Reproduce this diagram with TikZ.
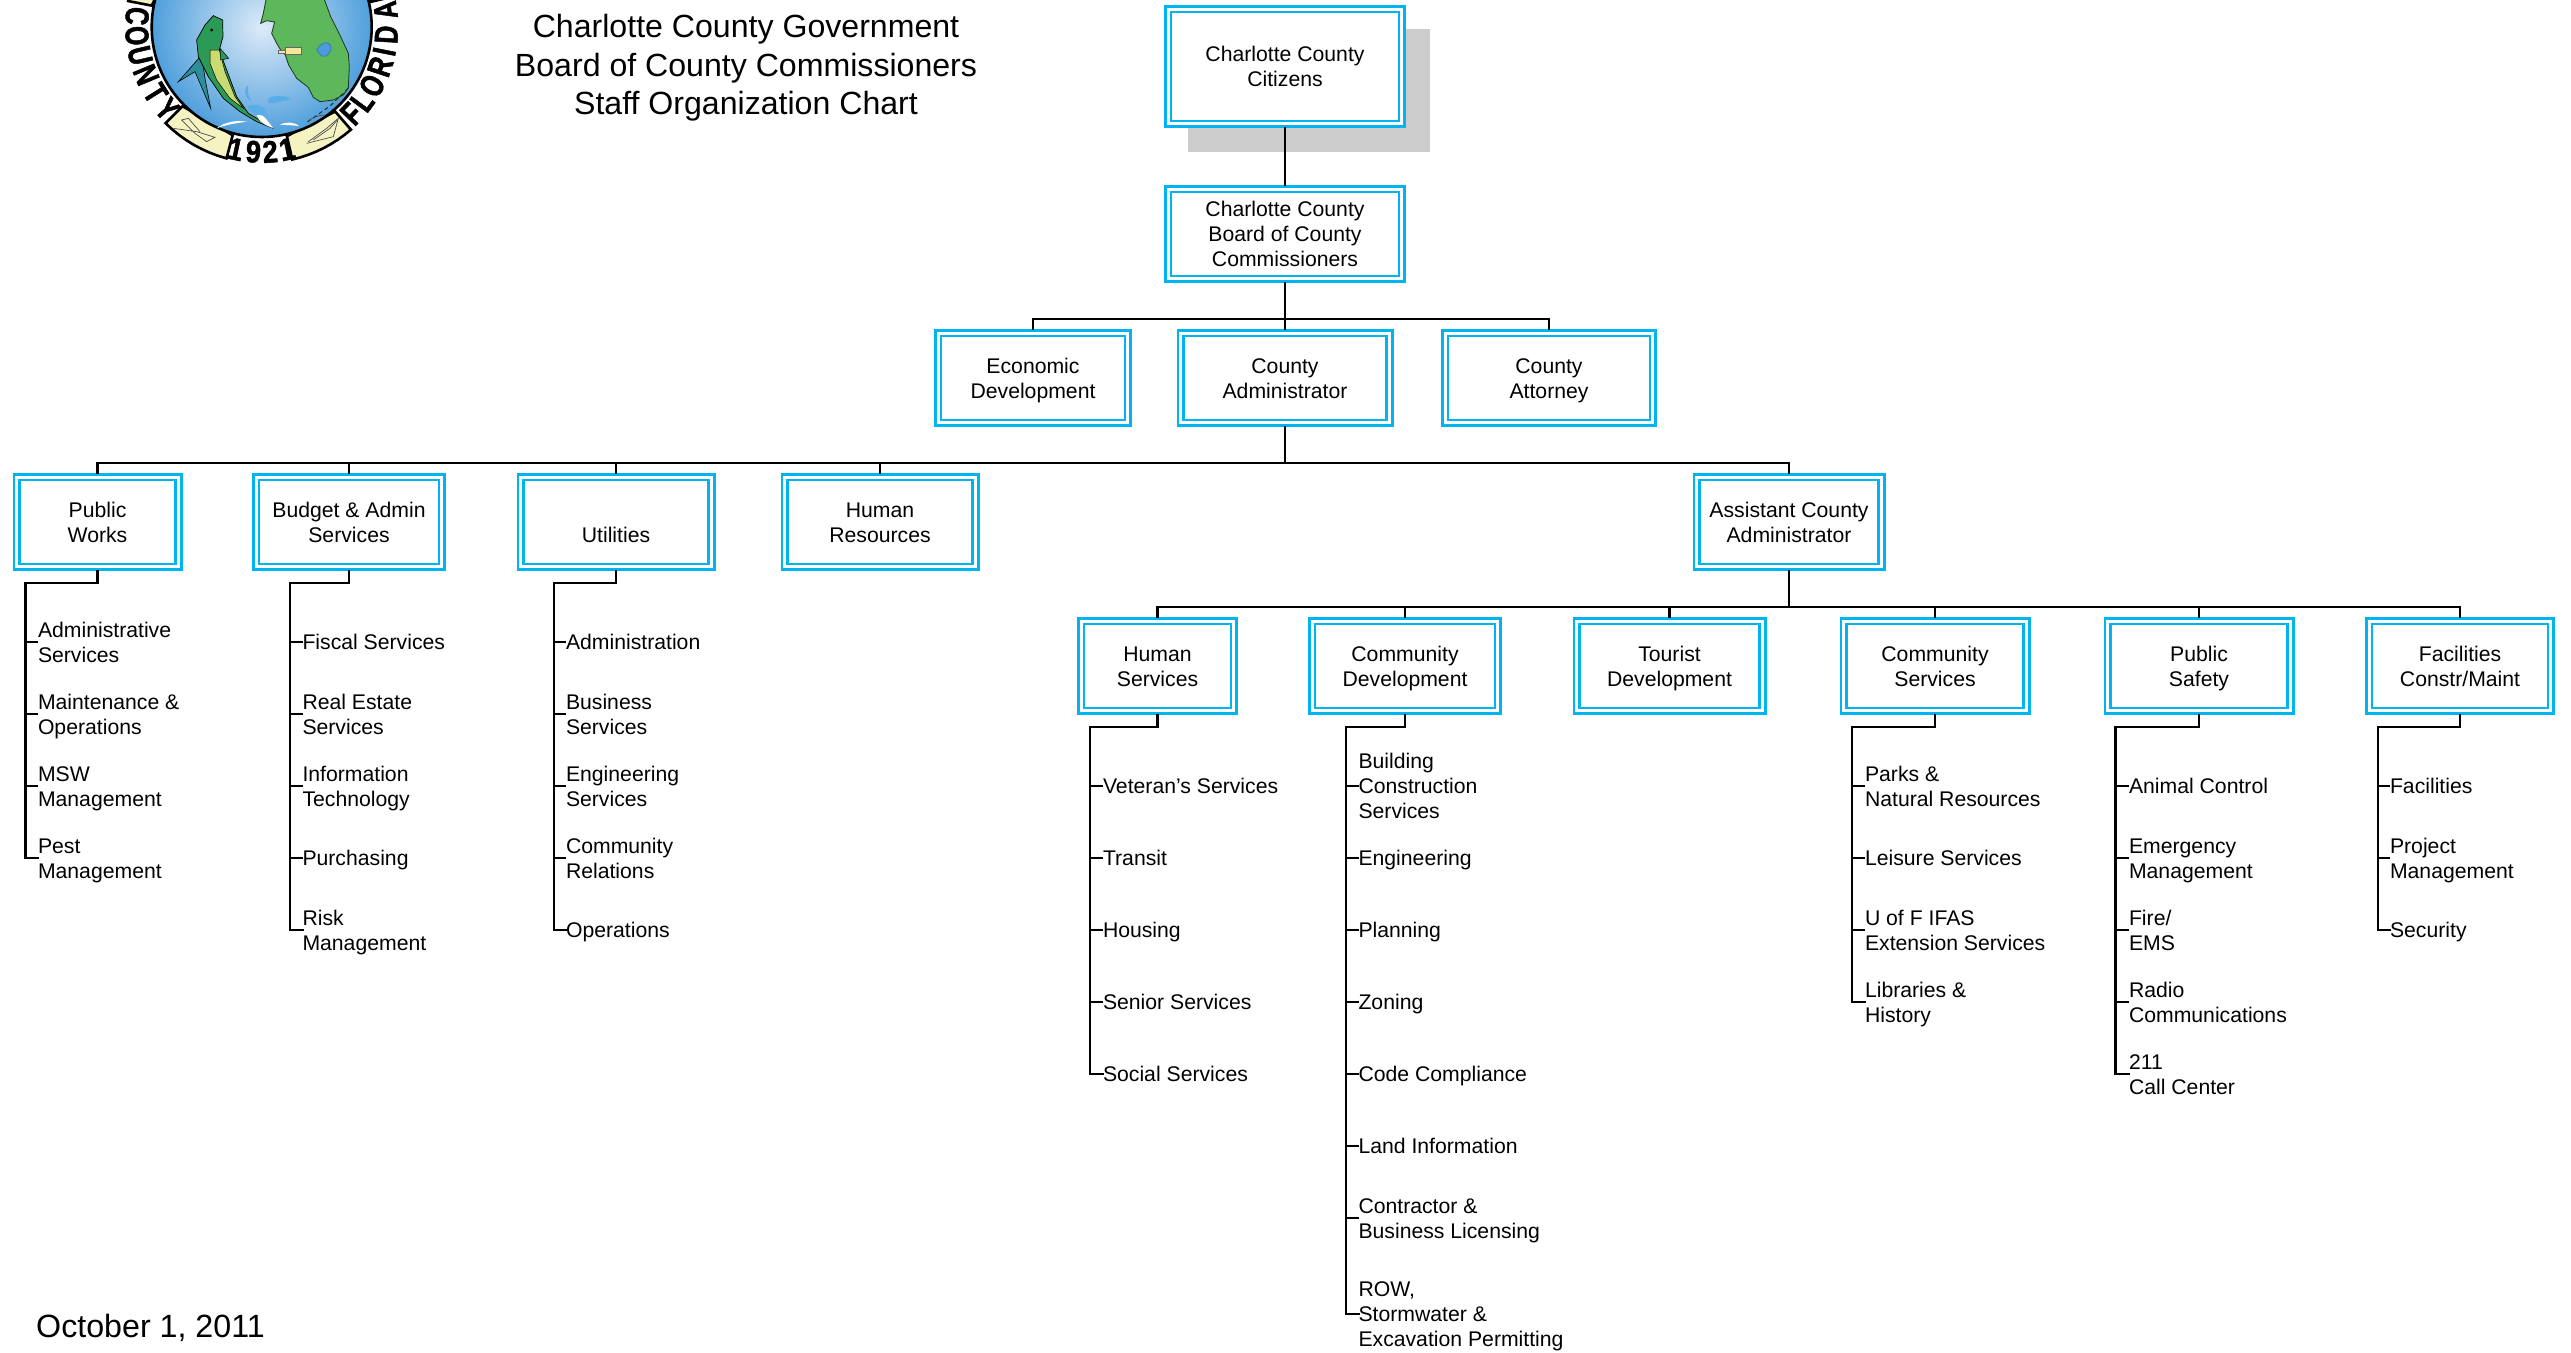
\documentclass[tikz,border=0pt]{standalone}
\usepackage{fontspec}
\setmainfont{Liberation Sans}
\newfontfamily\sealfont[BoldFeatures={FakeBold=1.5,FakeStretch=0.75}]{Liberation Sans}
\newfontfamily\yrfont[BoldFeatures={FakeBold=1.5,FakeStretch=0.88}]{Liberation Sans}
\newcommand{\bodyfont}{\fontsize{21.2}{25}\selectfont}
\newcommand{\topstrut}{\rule{0pt}{23.2pt}}
\newcommand{\botstrut}{\rule[-7.5pt]{0pt}{7.5pt}}
\tikzset{
  x=1pt,y=-1pt,
  orgbox/.style={draw=boxcyan,double=white,double distance=2.8pt,line width=2.8pt,rectangle,
    inner sep=0pt,outer sep=4.2pt,align=center,font=\bodyfont,fill=white},
  leaf/.style={anchor=west,inner sep=0pt,outer sep=0pt,align=left,font=\bodyfont},
  conn/.style={draw=black,line width=2.4pt,line cap=rect,line join=miter},
  title/.style={inner sep=0pt,align=center,font=\fontsize{32.1}{38.6}\selectfont},
  seal/.style={font=\fontsize{33}{33}\selectfont\sealfont\bfseries,inner sep=0pt},
  yr/.style={font=\fontsize{31}{31}\selectfont\yrfont\bfseries,inner sep=0pt},
}
\definecolor{boxcyan}{HTML}{00B4F0}
\definecolor{shadowgrey}{HTML}{CCCCCC}
\definecolor{globein}{HTML}{DDEAF8}
\definecolor{globeout}{HTML}{4F9FDC}
\definecolor{land}{HTML}{5DB75B}
\definecolor{ribbon}{HTML}{F6F3C2}
\definecolor{countyy}{HTML}{F7E79A}
\definecolor{lake}{HTML}{4C9ADB}
\definecolor{fishg}{HTML}{2C9A57}
\definecolor{fishy}{HTML}{C9DB72}
\definecolor{fisht}{HTML}{2B8F9B}
\definecolor{splash}{HTML}{5AAEE8}
\newcommand{\orgb}[6]{\node[orgbox,minimum width=#3pt-8.4pt,minimum height=#4pt-8.4pt] (#1) at (#2,#5) {\topstrut #6\botstrut};}
\newcommand{\lf}[4]{\node[leaf] (#1) at (#2,#3) {\topstrut #4\botstrut};}
\begin{document}
\begin{tikzpicture}
\useasboundingbox (0,0) rectangle (2571,1352);
% ---- seal
\begin{scope}
\clip (0,0) rectangle (500,200);
\def\cx{261.7}\def\cy{27}
% seal letters
\foreach \ch/\p in {C/95,O/86,U/76.8,N/67.5,T/58,Y/49,F/-46,L/-53.5,O/-62,R/-71.5,I/-78.6,D/-86.5,A/-97.7}{
  \node[seal,rotate=-\p] at ({\cx-125*sin(\p)},{\cy+125*cos(\p)}) {\ch};
}
% ribbon pieces (phi measured from straight down, towards the left)
\foreach \a/\b in {45/15,-13/-41,101/130,-103/-130}{
  \filldraw[fill=ribbon,draw=black,line width=2.6pt]
    ({\cx-112*sin(\a)},{\cy+112*cos(\a)}) -- ({\cx-136*sin(\a)},{\cy+136*cos(\a)})
    \foreach \t in {1,...,8}{ -- ({\cx-136*sin(\a+(\b-\a)*\t/8)},{\cy+136*cos(\a+(\b-\a)*\t/8)}) }
    -- ({\cx-112*sin(\b)},{\cy+112*cos(\b)}) -- cycle;
}
\foreach \ch/\p in {1/12,9/3.8,2/-3.9,1/-11.7}{
  \node[yr,rotate=-\p] at ({\cx-125*sin(\p)},{\cy+125*cos(\p)}) {\ch};
}
% globe
\shade[inner color=globein,outer color=globeout] (\cx,\cy) circle[radius=110];
\draw[black,line width=2.6pt] (\cx,\cy) circle[radius=110];
\begin{scope}[shift={(100,0)},x=0.33333pt,y=-0.33333pt]
  % florida
  \filldraw[fill=land,draw=black!70!land,line width=.8pt]
    (500,-10) -- (490,40) -- (482,70) -- (500,62) -- (524,66) -- (515,100) -- (530,130) -- (542,150)
    -- (556,165) -- (566,195) -- (590,235) -- (625,262) -- (640,292) -- (660,305) -- (700,300)
    -- (730,285) -- (745,262) -- (748,200) -- (745,160) -- (722,110) -- (692,50) -- (670,-10) -- cycle;
  \draw[black!70!land,line width=1pt,dash pattern=on 4pt off 3pt] (745,265) -- (690,318) -- (622,366);
  \filldraw[fill=lake,draw=lake!70!black,line width=.5pt]
    (650,150) .. controls (660,130) and (680,120) .. (692,135) .. controls (698,155) and (680,175) .. (665,168) .. controls (658,162) and (654,156) .. (650,150) -- cycle;
  \filldraw[fill=countyy,draw=black!60,line width=.6pt] (556,142) rectangle (603,163);
  \filldraw[fill=countyy,draw=black!60,line width=.6pt] (535,150) rectangle (556,160);
  % fish
  \filldraw[fill=fisht,draw=black,line width=.6pt] (305,165) -- (235,245) -- (285,215) -- (332,325) -- (315,235) -- cycle;
  \filldraw[fill=fishg,draw=black,line width=.7pt]
    (340,47) -- (368,60) -- (369,110) -- (358,150) -- (380,210) -- (410,290) -- (445,340) -- (520,385)
    -- (470,365) -- (420,335) -- (370,295) -- (325,230) -- (295,170) -- (290,120) -- (315,75) -- cycle;
  \filldraw[fill=fishy,draw=black,line width=.5pt] (330,150) -- (358,150) -- (375,215) -- (405,290) -- (430,325) -- (390,295) -- (350,240) -- (330,190) -- cycle;
  \filldraw[fill=fishg,draw=black,line width=.5pt] (360,145) -- (386,175) -- (362,180) -- cycle;
  \fill[black] (335,90) circle[radius=5];
  % splashes
  \fill[splash] (445,255) .. controls (425,270) and (440,300) .. (455,305) .. controls (445,290) and (440,270) .. (445,255) -- cycle;
  \fill[splash] (505,295) .. controls (530,280) and (570,290) .. (575,300) .. controls (555,300) and (530,310) .. (505,310) -- cycle;
  \fill[splash] (440,320) .. controls (470,305) and (500,320) .. (500,345) .. controls (480,350) and (455,340) .. (440,320) -- cycle;
  \fill[white] (350,385) .. controls (375,365) and (410,360) .. (440,365) .. controls (405,370) and (375,375) .. (350,385) -- cycle;
  \fill[white] (470,345) .. controls (490,340) and (500,360) .. (520,385) .. controls (495,375) and (475,365) .. (470,345) -- cycle;
  \fill[white] (540,375) .. controls (560,362) and (585,368) .. (598,378) .. controls (575,376) and (555,374) .. (540,375) -- cycle;
  \draw[black!70,line width=.7pt] (622,365) .. controls (640,350) and (660,345) .. (675,345);
  % plane and boat sketches
  \draw[black!70,line width=.7pt] (220,385) -- (290,395) -- (345,412) -- (320,425) -- (285,400) -- (245,360) -- (265,355) -- (300,395);
  \draw[black!70,line width=.7pt] (620,430) -- (700,410) -- (715,355) -- (680,385) -- (625,425);
  \draw[black!70,line width=.7pt] (640,420) -- (690,385) -- (712,360);
\end{scope}
\end{scope}
% ---- shadow of the top box
\fill[shadowgrey] (1188,29) rectangle (1430,152);
% ---- boxes
\orgb{cit}{1285}{242}{123}{66.5}{Charlotte County\\Citizens}
\orgb{bcc}{1285}{242}{98}{234}{Charlotte County\\Board of County\\Commissioners}
\orgb{eco}{1033}{198}{98}{378}{Economic\\Development}
\orgb{adm}{1285}{217}{98}{378}{County\\Administrator}
\orgb{att}{1549}{216}{98}{378}{County\\Attorney}
\orgb{pw}{97.5}{170}{98}{522}{Public\\Works}
\orgb{bud}{349}{194}{98}{522}{Budget \& Admin\\Services}
\orgb{uti}{616}{199}{98}{522}{\phantom{U}\\Utilities}
\orgb{hr}{880}{199}{98}{522}{Human\\Resources}
\orgb{asst}{1789}{193}{98}{522}{Assistant County\\Administrator}
\orgb{hs}{1157.5}{161}{98}{666}{Human\\Services}
\orgb{cd}{1405}{194}{98}{666}{Community\\Development}
\orgb{td}{1669.5}{194}{98}{666}{Tourist\\Development}
\orgb{cs}{1935}{191}{98}{666}{Community\\Services}
\orgb{ps}{2199}{191}{98}{666}{Public\\Safety}
\orgb{fc}{2460}{190}{98}{666}{Facilities\\Constr/Maint}
% ---- titles
\node[title] (ttl) at (746,68) {Charlotte County Government\\Board of County Commissioners\\Staff Organization Chart};
\node[inner sep=0pt,anchor=base west,font=\fontsize{32.2}{38}\selectfont] (dat) at (36,1337) {October 1, 2011};
% ---- leaves
\lf{pw1}{38}{642}{Administrative\\Services}
\lf{pw2}{38}{714}{Maintenance \&\\Operations}
\lf{pw3}{38}{786}{MSW\\Management}
\lf{pw4}{38}{858}{Pest\\Management}
\lf{bd1}{302.5}{642}{Fiscal Services}
\lf{bd2}{302.5}{714}{Real Estate\\Services}
\lf{bd3}{302.5}{786}{Information\\Technology}
\lf{bd4}{302.5}{858}{Purchasing}
\lf{bd5}{302.5}{930}{Risk\\Management}
\lf{ut1}{566}{642}{Administration}
\lf{ut2}{566}{714}{Business\\Services}
\lf{ut3}{566}{786}{Engineering\\Services}
\lf{ut4}{566}{858}{Community\\Relations}
\lf{ut5}{566}{930}{Operations}
\lf{hs1}{1103}{786}{Veteran’s Services}
\lf{hs2}{1103}{858}{Transit}
\lf{hs3}{1103}{930}{Housing}
\lf{hs4}{1103}{1002}{Senior Services}
\lf{hs5}{1103}{1074}{Social Services}
\lf{cd1}{1358.5}{786}{Building\\Construction\\Services}
\lf{cd2}{1358.5}{858}{Engineering}
\lf{cd3}{1358.5}{930}{Planning}
\lf{cd4}{1358.5}{1002}{Zoning}
\lf{cd5}{1358.5}{1074}{Code Compliance}
\lf{cd6}{1358.5}{1146}{Land Information}
\lf{cd7}{1358.5}{1218}{Contractor \&\\Business Licensing}
\lf{cd8}{1358.5}{1314}{ROW,\\Stormwater \&\\Excavation Permitting}
\lf{cs1}{1865}{786}{Parks \&\\Natural Resources}
\lf{cs2}{1865}{858}{Leisure Services}
\lf{cs3}{1865}{930}{U of F IFAS\\Extension Services}
\lf{cs4}{1865}{1002}{Libraries \&\\History}
\lf{ps1}{2129}{786}{Animal Control}
\lf{ps2}{2129}{858}{Emergency\\Management}
\lf{ps3}{2129}{930}{Fire/\\EMS}
\lf{ps4}{2129}{1002}{Radio\\Communications}
\lf{ps5}{2129}{1074}{211\\Call Center}
\lf{fc1}{2390}{786}{Facilities}
\lf{fc2}{2390}{858}{Project\\Management}
\lf{fc3}{2390}{930}{Security}
% ---- connectors
\coordinate (b1) at (1285,319);
\coordinate (b2) at (1285,463);
\coordinate (b3) at (1789,607);
\draw[conn] (cit.south) -- (bcc.north);
\draw[conn] (bcc.south) -- (adm.north);
\draw[conn] (eco.north) |- (b1) -| (att.north);
\draw[conn] (adm.south) -- (b2);
\draw[conn] (pw.north) |- (b2) -| (asst.north);
\foreach \n in {bud,uti,hr}{\draw[conn] (\n.north) -- (\n.north |- b2);}
\draw[conn] (asst.south) -- (b3);
\draw[conn] (hs.north) |- (b3) -| (fc.north);
\foreach \n in {cd,td,cs,ps}{\draw[conn] (\n.north) -- (\n.north |- b3);}
% side branches
\foreach \pn/\vx/\by/\pf/\cnt in {pw/25.5/583/pw/4,bud/290/583/bd/5,uti/554/583/ut/5,hs/1090/727/hs/5,cd/1346/727/cd/8,cs/1852/727/cs/4,ps/2115.5/727/ps/5,fc/2378/727/fc/3}{
  \coordinate (\pn bus) at (\vx,\by);
  \draw[conn] (\pn.south) |- (\pn bus) -- (\pn bus |- \pf\cnt.west) -- (\pf\cnt.west);
  \foreach \k in {1,...,\cnt}{ \draw[conn,line cap=butt] (\pn bus |- \pf\k.west) -- (\pf\k.west); }
}
\end{tikzpicture}
\end{document}
